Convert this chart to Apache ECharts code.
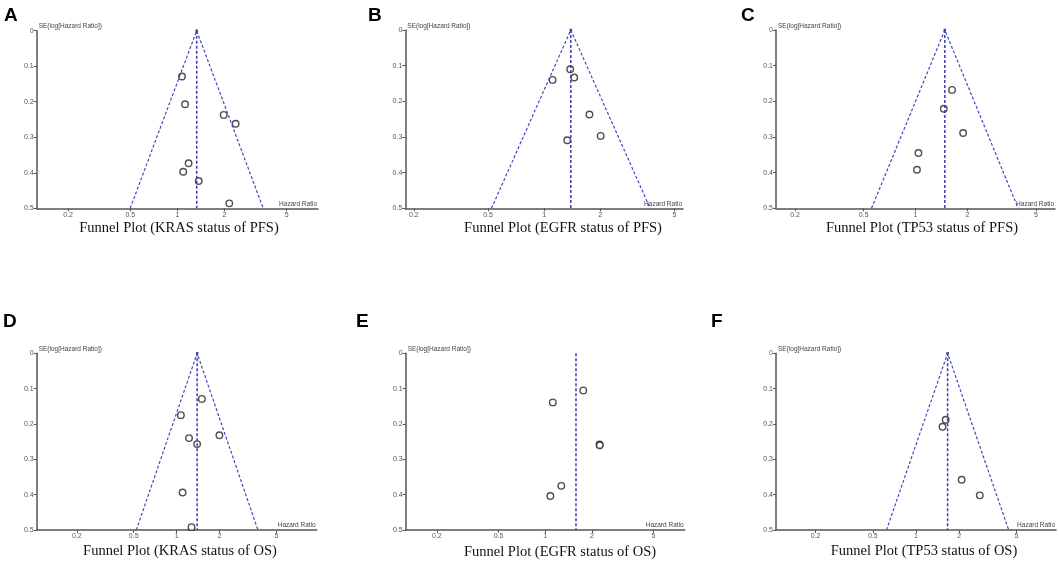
<!DOCTYPE html>
<html lang="en">
<head>
  <meta charset="UTF-8">
  <title>Funnel plots</title>
  <style>
    html, body { margin: 0; padding: 0; background: #fff; }
    #chart { width: 1059px; height: 561px; }
  </style>
</head>
<body>
  <div id="chart"></div>
  <script src="https://cdn.jsdelivr.net/npm/echarts@6/dist/echarts.min.js"></script>
  <script>
    // study points: hazard ratio and SE(log HR)
    const hrA = [1.07, 1.12, 1.98, 2.36, 1.18, 1.09, 1.37, 2.15];
    const seA = [0.129, 0.207, 0.237, 0.262, 0.373, 0.397, 0.423, 0.486];
    const hrB = [1.38, 1.11, 1.45, 1.75, 2.01, 1.33];
    const seB = [0.110, 0.140, 0.133, 0.237, 0.297, 0.309];
    const hrC = [1.63, 1.46, 1.89, 1.04, 1.02];
    const seC = [0.168, 0.221, 0.289, 0.345, 0.392];
    const hrD = [1.50, 1.07, 1.22, 1.99, 1.39, 1.10, 1.27];
    const seD = [0.129, 0.175, 0.240, 0.232, 0.257, 0.394, 0.492];
    const hrE = [1.76, 1.12, 2.24, 2.25, 1.27, 1.08];
    const seE = [0.105, 0.139, 0.258, 0.260, 0.375, 0.404];
    const hrF = [1.61, 1.53, 2.08, 2.78];
    const seF = [0.188, 0.208, 0.358, 0.402];

    // pooled estimate per panel (vertical line / funnel apex)
    const pooledHR = [1.33, 1.39, 1.48, 1.39, 1.58, 1.66];
    const showFunnel = [true, true, true, true, false, true];

    const hrTicks = [0.2, 0.5, 1, 2, 5];
    const seMax = 0.5;
    const letters = ['A', 'B', 'C', 'D', 'E', 'F'];
    const titles = [
      'Funnel Plot (KRAS status of PFS)',
      'Funnel Plot (EGFR status of PFS)',
      'Funnel Plot (TP53 status of PFS)',
      'Funnel Plot (KRAS status of OS)',
      'Funnel Plot (EGFR status of OS)',
      'Funnel Plot (TP53 status of OS)'
    ];

    const allHR = [hrA, hrB, hrC, hrD, hrE, hrF];
    const allSE = [seA, seB, seC, seD, seE, seF];

    // layout of each panel (px) and half-width of the log10 x range
    const boxes = [
      { left: 36.7, top: 30.7, width: 281.3, height: 177.6, span: 0.9 },
      { left: 405.3, top: 30, width: 277.7, height: 178.3, span: 0.745 },
      { left: 776, top: 30, width: 279, height: 178.3, span: 0.81 },
      { left: 36.7, top: 353.3, width: 280, height: 176.7, span: 0.98 },
      { left: 405.7, top: 353.3, width: 279, height: 176.7, span: 0.9 },
      { left: 776, top: 353.3, width: 280, height: 176.7, span: 0.975 }
    ];
    const letterPos = [[4, 6], [368, 6], [741, 6], [3, 312], [356, 312], [711, 312]];
    const titlePos = [[179, 228], [563, 228], [922, 228], [180, 551], [560, 552], [924, 551]];

    const lg = v => Math.log10(v);
    const Z = 1.96;
    const axisGrey = '#555';
    const funnelBlue = '#4646c4';

    const grids = [], xAxes = [], yAxes = [], series = [], graphics = [];

    boxes.forEach((b, i) => {
      grids.push({ left: b.left, top: b.top, width: b.width, height: b.height });

      xAxes.push({
        gridIndex: i,
        type: 'value',
        position: 'bottom',
        min: -b.span,
        max: b.span,
        name: 'Hazard Ratio',
        nameLocation: 'end',
        nameGap: -1,
        nameTextStyle: {
          fontSize: 6.5, color: '#444', fontFamily: 'Liberation Sans',
          align: 'right', verticalAlign: 'bottom', padding: [0, 0, 1, 0]
        },
        splitLine: { show: false },
        axisLine: { onZero: false, lineStyle: { color: axisGrey, width: 1.5 } },
        axisTick: { customValues: hrTicks.map(lg), length: 3, lineStyle: { color: axisGrey } },
        axisLabel: {
          customValues: hrTicks.map(lg),
          formatter: v => String(Number(Math.pow(10, v).toFixed(2))),
          fontSize: 7, color: '#555', fontFamily: 'Liberation Sans', margin: 3
        }
      });

      yAxes.push({
        gridIndex: i,
        type: 'value',
        position: 'left',
        inverse: true,
        min: 0,
        max: seMax,
        interval: 0.1,
        name: 'SE(log[Hazard Ratio])',
        nameLocation: 'start',
        nameGap: 4,
        nameTextStyle: {
          fontSize: 6.5, color: '#444', fontFamily: 'Liberation Sans',
          align: 'left', verticalAlign: 'middle', padding: [0, 0, 0, 2]
        },
        splitLine: { show: false },
        axisLine: { show: true, onZero: false, lineStyle: { color: axisGrey, width: 1.5 } },
        axisTick: { length: 3, lineStyle: { color: axisGrey } },
        axisLabel: {
          formatter: v => String(Number(v.toFixed(1))),
          fontSize: 7, color: '#555', fontFamily: 'Liberation Sans', margin: 3
        }
      });

      const p = lg(pooledHR[i]);
      const w = Z * seMax / Math.LN10;

      if (showFunnel[i]) {
        series.push({
          type: 'line', xAxisIndex: i, yAxisIndex: i,
          data: [[p - w, seMax], [p, 0], [p + w, seMax]],
          symbol: 'none', silent: true,
          lineStyle: { color: funnelBlue, width: 1.2, type: [3, 2] }
        });
        series.push({
          type: 'scatter', xAxisIndex: i, yAxisIndex: i,
          data: [[p, 0]], symbol: 'rect', symbolSize: 2.5, silent: true,
          itemStyle: { color: '#1c1c70' }
        });
      }

      series.push({
        type: 'line', xAxisIndex: i, yAxisIndex: i,
        data: [[p, 0], [p, seMax]],
        symbol: 'none', silent: true,
        lineStyle: { color: '#3a3ab8', width: 1.5, type: [3, 2] }
      });

      // plain circle with white fill so the stroke width can be set
      series.push({
        type: 'scatter', xAxisIndex: i, yAxisIndex: i,
        data: allHR[i].map((h, k) => [lg(h), allSE[i][k]]),
        symbol: 'circle', symbolSize: 6.5,
        itemStyle: { color: '#fff', borderColor: '#222', borderWidth: 1.4 }
      });

      graphics.push({
        type: 'text', x: letterPos[i][0], y: letterPos[i][1],
        style: { text: letters[i], font: 'bold 19px "Liberation Sans", Arial', fill: '#000' }
      });
      graphics.push({
        type: 'text', x: titlePos[i][0], y: titlePos[i][1],
        style: {
          text: titles[i], font: '14.5px "Liberation Serif", "Times New Roman", serif',
          fill: '#111', align: 'center', verticalAlign: 'middle'
        }
      });
    });

    const chart = echarts.init(document.getElementById('chart'));
    chart.setOption({
      animation: false,
      backgroundColor: '#fff',
      grid: grids,
      xAxis: xAxes,
      yAxis: yAxes,
      series: series,
      graphic: graphics
    });
  </script>
</body>
</html>
